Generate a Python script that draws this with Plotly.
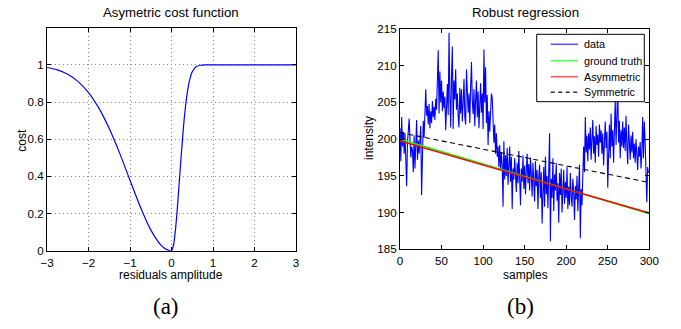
import plotly.graph_objects as go

# ---- (a) asymmetric cost function ----
cost_x = [-3.0, -2.75, -2.5, -2.25, -2.0, -1.75, -1.5, -1.25, -1.0, -0.75, -0.5, -0.25, -0.125,
          0.0, 0.05, 0.1, 0.15, 0.2, 0.25, 0.3, 0.35, 0.4, 0.45, 0.5, 0.6, 0.7, 0.8, 1.0,
          1.5, 2.0, 2.5, 3.0]
cost_y = [0.986, 0.973, 0.949, 0.910, 0.851, 0.767, 0.657, 0.525, 0.379, 0.235, 0.112, 0.029, 0.007,
          0.0, 0.032, 0.123, 0.256, 0.409, 0.56, 0.694, 0.80, 0.878, 0.93, 0.963, 0.991, 0.998, 1.0, 1.0,
          1.0, 1.0, 1.0, 1.0]

# ---- (b) robust regression ----
data_y = [
    201.5, 197.0, 203.0, 199.0, 201.0, 198.0, 200.8, 196.5, 193.6, 199.5,
    202.2, 202.8, 200.0, 197.5, 199.0, 198.5, 195.5, 200.5, 196.0, 199.2,
    202.6, 197.2, 199.8, 198.0, 200.6, 201.8, 192.4, 199.0, 202.5, 200.2,
    203.0, 206.8, 203.2, 204.5, 202.0, 204.8, 201.5, 203.8, 202.2, 205.2,
    203.0, 204.4, 202.6, 205.5, 204.0, 207.8, 212.1, 203.5, 209.2, 205.0,
    208.0, 203.8, 206.5, 204.2, 205.8, 201.2, 205.6, 207.5, 203.3, 214.5,
    206.0, 201.6, 208.5, 212.6, 201.4, 208.0, 205.4, 209.5, 204.0, 206.2,
    203.2, 201.6, 207.0, 203.5, 206.8, 202.4, 205.0, 208.2, 203.0, 202.0,
    209.5, 205.0, 203.6, 206.2, 202.2, 207.0, 210.5, 205.2, 203.4, 206.8,
    201.8, 205.3, 208.0, 203.0, 206.5, 201.5, 204.0, 207.6, 203.6, 206.2,
    201.4, 212.2, 205.0, 209.8, 202.2, 206.0, 199.2, 203.8, 201.0, 203.5,
    206.2, 205.6, 203.5, 199.5, 202.0, 198.0, 200.8, 197.6, 199.0, 196.2,
    199.2, 195.8, 198.2, 196.4, 190.8, 199.7, 194.5, 197.8, 195.0, 198.8,
    193.8, 196.5, 199.0, 194.2, 197.6, 190.5, 196.0, 194.5, 197.4, 195.2,
    192.8, 196.8, 194.0, 198.4, 195.6, 191.0, 196.0, 194.2, 197.8, 193.2,
    196.4, 192.5, 195.8, 198.0, 194.0, 196.6, 193.0, 197.5, 195.2, 192.2,
    196.8, 194.5, 191.5, 197.0, 193.6, 195.8, 190.5, 194.8, 196.5, 192.0,
    195.5, 188.5, 193.8, 196.2, 190.8, 197.6, 192.5, 195.0, 190.6, 196.0,
    200.8, 186.1, 194.6, 192.0, 197.4, 190.2, 195.2, 193.0, 196.8, 191.6,
    194.0, 188.6, 195.4, 192.4, 196.0, 190.0, 193.6, 195.8, 191.2, 194.2,
    192.0, 196.2, 190.5, 193.5, 191.0, 195.4, 192.2, 190.8, 194.6, 192.8,
    189.0, 193.6, 191.8, 195.0, 190.2, 194.0, 196.5, 186.5, 193.2, 191.0,
    196.8, 199.0, 195.5, 203.0, 198.2, 200.5, 197.0, 200.8, 198.6, 201.6,
    197.2, 199.8, 202.6, 198.0, 200.4, 196.8, 201.8, 199.2, 200.6, 197.6,
    202.0, 199.5, 201.2, 198.0, 200.8, 196.4, 199.6, 202.4, 198.8, 201.0,
    193.4, 200.2, 202.0, 197.4, 203.5, 199.0, 201.2, 196.8, 200.0, 205.4,
    199.2, 203.0, 207.2, 199.5, 202.5, 197.4, 201.2, 199.0, 202.4, 198.8,
    201.6, 198.4, 203.2, 199.0, 196.6, 202.0, 199.4, 197.2, 200.5, 198.2,
    201.0, 197.4, 199.4, 196.8, 200.0, 198.2, 195.8, 199.0, 197.6, 199.6,
    196.0, 198.2, 203.0, 197.4, 202.4, 199.6, 194.0, 191.4, 196.2, 195.4,
]
data_x = list(range(len(data_y)))

fit_x = [0, 300]
truth_y = [200.0, 189.85]
asym_y = [199.75, 189.95]
sym_y = [200.9, 194.1]

series_names = ["data", "ground truth", "Asymmetric", "Symmetric"]
series_colors = ["#0000ff", "#00ff00", "#ff0000", "black"]
legend_colors = ["#5a5aff", "#55ff55", "#ff5a5a", "#333333"]
series_dash = ["solid", "solid", "solid", "5px,3.5px"]
series_width = [1.1, 1.5, 1.5, 1.1]

FONT = "Liberation Sans, Arial, sans-serif"
SERIF = "Liberation Serif, Times New Roman, serif"
W, H = 681, 329

fig = go.Figure()
fig.add_trace(go.Scatter(x=cost_x, y=cost_y, mode="lines",
                         line=dict(color="#0000ff", width=1.2, shape="spline", smoothing=0.6),
                         xaxis="x", yaxis="y", showlegend=False))
for xs, ys, i in [(data_x, data_y, 0), (fit_x, truth_y, 1), (fit_x, asym_y, 2), (fit_x, sym_y, 3)]:
    fig.add_trace(go.Scatter(x=xs, y=ys, mode="lines", name=series_names[i],
                             line=dict(color=series_colors[i], width=series_width[i], dash=series_dash[i]),
                             xaxis="x2", yaxis="y2", showlegend=False))

axcommon = dict(showline=True, linecolor="black", linewidth=1, mirror="ticks", ticks="inside", ticklen=4,
                tickcolor="black", tickfont=dict(family=FONT, size=11.6, color="black"), zeroline=False,
                automargin=False)
gridstyle = dict(showgrid=True, gridcolor="#8c8c8c", griddash="1px,3px", gridwidth=1)


def px(x):
    return x / W


def py(y):
    return 1 - y / H


annotations = [
    dict(text="Asymetric cost function", x=px(171), y=py(13), size=13.2, family=FONT),
    dict(text="Robust regression", x=px(525), y=py(13), size=13.2, family=FONT),
    dict(text="residuals amplitude", x=px(171), y=py(275), size=12, family=FONT),
    dict(text="samples", x=px(525), y=py(275), size=12, family=FONT),
    dict(text="(a)", x=px(166), y=py(306), size=23, family=SERIF),
    dict(text="(b)", x=px(520), y=py(306), size=23, family=SERIF),
]
ann = [dict(text=a["text"], x=a["x"], y=a["y"], xref="paper", yref="paper", showarrow=False,
            xanchor="center", yanchor="middle", font=dict(family=a["family"], size=a["size"], color="black"))
       for a in annotations]
ann.append(dict(text="cost", x=px(21.7), y=py(140), xref="paper", yref="paper", showarrow=False, textangle=-90,
                xanchor="center", yanchor="middle", font=dict(family=FONT, size=12, color="black")))
ann.append(dict(text="intensity", x=px(369), y=py(138), xref="paper", yref="paper", showarrow=False, textangle=-90,
                xanchor="center", yanchor="middle", font=dict(family=FONT, size=12, color="black")))

# legend box (drawn as in the reference: compact MATLAB-style legend)
shapes = [dict(type="rect", xref="paper", yref="paper", x0=px(536.7), x1=px(644.3), y0=py(101.7), y1=py(34.3),
               line=dict(color="black", width=1), fillcolor="white", layer="above")]
entry_y = [44.3, 60.7, 76.7, 92.3]
for i, name in enumerate(series_names):
    shapes.append(dict(type="line", xref="paper", yref="paper", x0=px(550.7), x1=px(578), y0=py(entry_y[i]),
                       y1=py(entry_y[i]), layer="above",
                       line=dict(color=legend_colors[i], width=1.6,
                                 dash="4px,3.5px" if i == 3 else "solid")))
    ann.append(dict(text=name, x=px(581.5), y=py(entry_y[i]), xref="paper", yref="paper", showarrow=False,
                    xanchor="left", yanchor="middle", font=dict(family=FONT, size=10.8, color="black")))

fig.update_layout(
    width=W, height=H, margin=dict(l=0, r=0, t=0, b=0),
    paper_bgcolor="white", plot_bgcolor="white",
    font=dict(family=FONT, color="black"),
    showlegend=False,
    xaxis=dict(domain=[px(47), px(296)], range=[-3, 3], dtick=1, anchor="y", ticklabelstandoff=1,
               **gridstyle, **axcommon),
    yaxis=dict(domain=[py(250.7), py(27.7)], range=[0, 1.2], tickvals=[0, 0.2, 0.4, 0.6, 0.8, 1.0],
               ticktext=["0", "0.2", "0.4", "0.6", "0.8", "1"], anchor="x", **gridstyle, **axcommon),
    xaxis2=dict(domain=[px(400), px(649.3)], range=[0, 300], dtick=50, showgrid=False, anchor="y2",
                ticklabelstandoff=1, **axcommon),
    yaxis2=dict(domain=[py(249.3), py(29)], range=[185, 215], dtick=5, showgrid=False, anchor="x2", **axcommon),
    annotations=ann,
    shapes=shapes,
)

fig.write_html("out.html", config={"displayModeBar": False},
               post_script="document.body.style.margin='0';document.body.style.overflow='hidden';")
